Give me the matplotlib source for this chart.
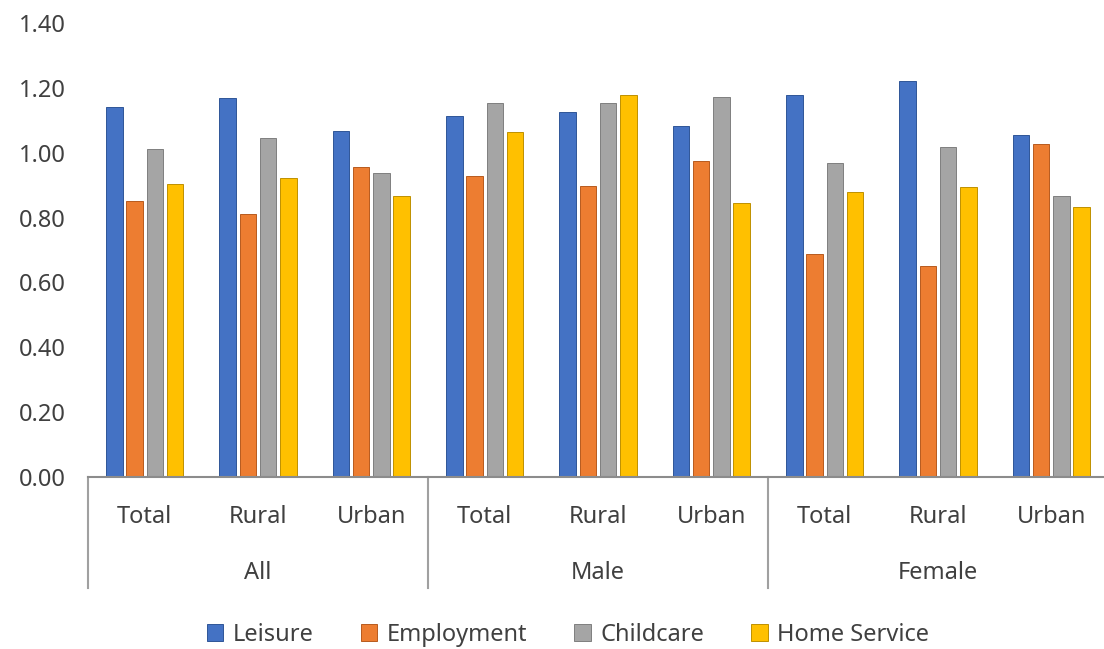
import matplotlib.pyplot as plt
import matplotlib.transforms as mtransforms
from matplotlib.patches import Patch
import numpy as np

plt.rcParams['font.family'] = ['Noto Sans', 'DejaVu Sans']

groups = ['All', 'Male', 'Female']
areas = ['Total', 'Rural', 'Urban']
series = ['Leisure', 'Employment', 'Childcare', 'Home Service']

leisure = [1.140, 1.168, 1.068, 1.112, 1.125, 1.083, 1.178, 1.221, 1.054]
employment = [0.850, 0.812, 0.955, 0.927, 0.898, 0.974, 0.689, 0.651, 1.026]
childcare = [1.012, 1.045, 0.936, 1.154, 1.154, 1.173, 0.969, 1.017, 0.865]
home_service = [0.903, 0.921, 0.865, 1.063, 1.178, 0.846, 0.878, 0.893, 0.832]

colors = ['#4472C4', '#ED7D31', '#A5A5A5', '#FFC000']
edges = ['#2F5597', '#B85A1E', '#7F7F7F', '#BF9000']
text_col = '#404040'

fig = plt.figure(figsize=(11.04, 6.49), dpi=100)
ax = fig.add_axes([88 / 1104, 1 - 477 / 649, 1020 / 1104, 454 / 649])

x = np.arange(9) + 0.5
step = 0.179
width = 0.146
for k, vals in enumerate([leisure, employment, childcare, home_service]):
    ax.bar(x + (k - 1.5) * step, vals, width, color=colors[k],
           edgecolor=edges[k], linewidth=0.7, zorder=2)

ax.set_xlim(0, 9)
ax.set_ylim(0, 1.4)
ax.set_yticks(np.arange(0, 1.41, 0.2))
ax.set_yticklabels([f'{v:.2f}' for v in np.arange(0, 1.41, 0.2)])
ax.tick_params(axis='y', length=0, pad=16, labelsize=17, labelcolor=text_col)
ax.set_xticks([])
for s in ['top', 'right', 'left']:
    ax.spines[s].set_visible(False)
ax.spines['bottom'].set_color('#8C8C8C')
ax.spines['bottom'].set_linewidth(1.5)

trans = mtransforms.blended_transform_factory(ax.transData, ax.transAxes)
for i in range(9):
    ax.text(x[i], -0.088, areas[i % 3], transform=trans, ha='center',
            va='center', fontsize=17, color=text_col)
for g, name in enumerate(groups):
    ax.text(g * 3 + 1.5, -0.212, name, transform=trans, ha='center',
            va='center', fontsize=17, color=text_col)
for sx in [0, 3, 6]:
    ax.plot([sx, sx], [0, -0.2445], transform=trans, color='#A0A0A0',
            lw=1.5, clip_on=False)

handles = [Patch(facecolor=colors[k], edgecolor=edges[k], linewidth=0.7)
           for k in range(4)]
fig.legend(handles, series, loc='center', bbox_to_anchor=(568 / 1104, 1 - 635 / 649),
           ncol=4, frameon=False, fontsize=17, labelcolor=text_col,
           handlelength=0.7, handleheight=0.7, handletextpad=0.4, columnspacing=2.0)

fig.savefig('out.png', dpi=100)
